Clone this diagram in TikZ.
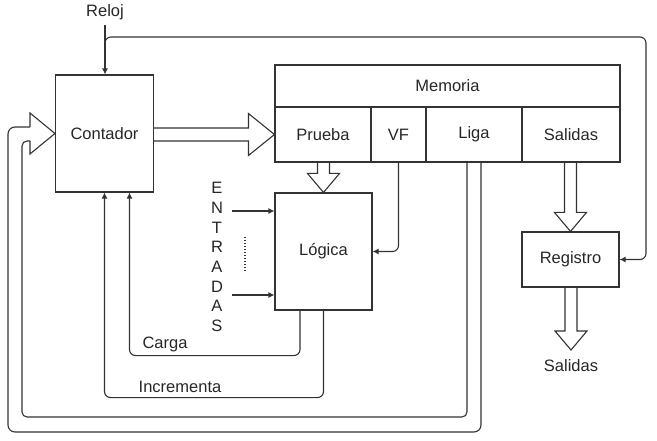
\documentclass[tikz,border=0pt]{standalone}
\usepackage{fontspec}
\setmainfont{Liberation Sans}
\usetikzlibrary{arrows.meta,calc}

\newcommand{\fatright}[2]{%
  \draw[wire] let \p1=#1, \p2=#2 in
    (\x1,\y2+6.5pt) -- (\x2-26pt,\y2+6.5pt) -- (\x2-26pt,\y2+21pt) -- (\x2,\y2)
    -- (\x2-26pt,\y2-21pt) -- (\x2-26pt,\y2-6.5pt) -- (\x1,\y2-6.5pt);}
\newcommand{\fatdown}[2]{%
  \draw[wire] let \p1=#1, \p2=#2 in
    (\x2-6pt,\y1) -- (\x2-6pt,\y2+19pt) -- (\x2-16pt,\y2+19pt) -- (\x2,\y2)
    -- (\x2+16pt,\y2+19pt) -- (\x2+6pt,\y2+19pt) -- (\x2+6pt,\y1);}

\begin{document}
\begin{tikzpicture}
[x=1pt,y=-1pt,
  wire/.style={draw=black!80,line width=1.1pt},%
  wirearrow/.style={wire,-{Latex[length=6pt,width=6pt]}},%
  blockbox/.style={shape=rectangle,draw=black!80,line width=1.1pt,inner sep=0pt,
    font=\fontsize{16.5}{19}\selectfont,text=black!85},%
  tagtext/.style={inner sep=1pt,font=\fontsize{16.5}{19}\selectfont,text=black!85}]
\useasboundingbox (0,0) rectangle (657,441);
%% blocks
\node (contador) at (104.5,133.5) [blockbox,minimum width=98pt,minimum height=117pt] {Contador};
\node (memoria) at (447.5,86) [blockbox,minimum width=345pt,minimum height=42pt] {Memoria};
\foreach \cellname/\x/\w/\txt in {prueba/323/96pt/Prueba, vf/398.5/55pt/VF,
  liga/474/96pt/Liga, salidas/571/98pt/Salidas}
{
  \node (\cellname) at (\x,134.5) [blockbox,minimum width=\w,minimum height=55pt] {\txt};
}
\node (logica) at (323.5,251.5) [blockbox,minimum width=97pt,minimum height=117pt] {Lógica};
\node (registro) at (570.5,259.5) [blockbox,minimum width=97pt,minimum height=55pt] {Registro};
%% texts
\node (reloj) at (105,12) [tagtext] {Reloj};
\node (carga) at (165,344) [tagtext] {Carga};
\node (incrementa) at (180,387) [tagtext] {Incrementa};
\node (salout) at (571,366) [tagtext] {Salidas};
\foreach \letra [count=\i from 0] in {E,N,T,R,A,D,A,S}
{
  \node (ent\i) at (217,188+19.7*\i) [tagtext] {\letra};
}
%% thin connectors
\coordinate (entA) at (232,211);
\coordinate (entB) at (232,295);
\draw[wirearrow] (entA) -- (entA -| logica.west);
\draw[wirearrow] (entB) -- (entB -| logica.west);
\draw[wire,dash pattern=on 1.5pt off 1.5pt] (245,237) -- (245,273);
\coordinate (relojtop) at (105,25);
\coordinate (relojsplit) at (105,48);
\coordinate (corner) at (646,37);
\draw[wirearrow] (relojtop) -- (relojtop |- contador.north);
\draw[wirearrow,rounded corners=6pt] (relojsplit) |- (corner) |- (registro.east);
\draw[wirearrow,rounded corners=6pt] (vf.south) |- (logica.east);
\draw[wirearrow,rounded corners=6pt] ([xshift=-23.5pt]logica.south) -- ++(0,45) -| ([xshift=25pt]contador.south);
\draw[wirearrow,rounded corners=6pt] (logica.south) -- ++(0,87) -| (contador.south);
%% wide arrows
\fatright{(contador.east)}{(prueba.west)}
\fatdown{(prueba.south)}{(logica.north)}
\fatdown{(salidas.south)}{(registro.north)}
\coordinate (salidastip) at (571,350);
\fatdown{(registro.south)}{(salidastip)}
%% wide loop from Liga back to Contador
\coordinate (headin) at (30,141);
\coordinate (headout) at (30,127);
\draw[wire,rounded corners=5pt] ([xshift=-7pt]liga.south) |- (22,417) |- (headin);
\draw[wire,rounded corners=7pt] ([xshift=7pt]liga.south) |- (8,432) |- (headout);
\draw[wire] (headin) -- (30,154) -- (contador.west) -- (30,113) -- (headout);
\end{tikzpicture}
\end{document}
